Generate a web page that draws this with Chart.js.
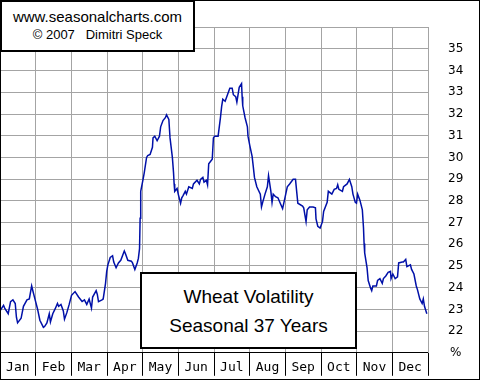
<!DOCTYPE html>
<html>
<head>
<meta charset="utf-8">
<script src="https://cdn.jsdelivr.net/npm/chart.js@4.4.1/dist/chart.umd.min.js"></script>
<style>
  body { margin: 0; background: #fff; }
  #wrap { position: relative; width: 480px; height: 380px; }
  #frame { position: absolute; left: 0; top: 0; width: 480px; height: 380px; border: 1px solid #000; box-sizing: border-box; pointer-events: none; }
  .box { position: absolute; background: #fff; border: 2px solid #000; box-sizing: border-box; font-family: "Liberation Sans", Arial, sans-serif; color: #000; }
  .box div { position: absolute; left: 0; right: 0; text-align: center; white-space: pre; }
  #credit { left: 0; top: 0; width: 195px; height: 52px; }
  #credit .l1 { top: 6px; font-size: 15px; line-height: 18px; }
  #credit .l2 { top: 25px; font-size: 13px; line-height: 16px; }
  #title { left: 140px; top: 272px; width: 217px; height: 77px; }
  #title .l1 { top: 11px; font-size: 19px; line-height: 24px; }
  #title .l2 { top: 40px; font-size: 19px; line-height: 24px; }
</style>
</head>
<body>
<div id="wrap">
  <canvas id="chart" width="480" height="380"></canvas>
  <div class="box" id="credit"><div class="l1">www.seasonalcharts.com</div><div class="l2">© 2007   Dimitri Speck</div></div>
  <div class="box" id="title"><div class="l1">Wheat Volatility</div><div class="l2">Seasonal 37 Years</div></div>
  <div id="frame"></div>
</div>
<script>
// meses do eixo x
const months = ['Jan', 'Feb', 'Mar', 'Apr', 'May', 'Jun', 'Jul', 'Aug', 'Sep', 'Oct', 'Nov', 'Dec'];

// dia do ano (0..365) de cada ponto lido
const days = [0, 3, 4, 7, 9, 11, 13, 14, 15, 18, 20, 23, 25, 27, 28, 30, 32, 34, 37, 38,
  40, 42, 43, 45, 47, 49, 50, 52, 54, 55, 57, 59, 61, 64, 67, 70, 72, 74, 76, 78,
  79, 82, 83, 84, 87, 88, 90, 91, 92, 94, 96, 97, 99, 101, 103, 106, 107, 109, 112, 113,
  115, 117, 118, 119, 119.5, 120, 122, 123, 125, 126, 128, 130, 130.5, 132, 134, 136, 137, 139, 141, 142,
  144, 145, 147, 148, 148.5, 149, 151, 152, 154, 155, 156, 158, 159, 161, 164, 165, 168, 170, 171, 173,
  174, 176, 177, 178, 181, 182, 183, 186, 188, 189, 190, 192, 194, 196, 198, 199, 201, 202, 204, 206,
  206.5, 207, 209, 211, 211.5, 213, 215, 216, 217, 219, 222, 223, 224, 226, 228, 229, 231, 232, 233, 235,
  237, 239, 241, 243, 245, 247, 250, 252, 253, 254, 258, 259, 261, 262, 264, 267, 269, 269.5, 271, 273,
  275, 276, 279, 280, 283, 285, 287, 288, 289, 292, 293, 296, 298, 300, 301, 303, 304, 305, 307, 309,
  310, 310.5, 311, 313, 314, 316, 317, 318, 321, 322, 324, 326, 327, 329, 331, 333, 333.5, 335, 337, 339,
  340, 343, 344, 346, 347, 350, 351, 353, 355, 356, 358, 360, 361, 362, 364];

// volatilidade sazonal (%)
const vol = [22.93, 23.19, 23.06, 22.80, 23.36, 23.44, 23.27, 22.64, 22.38, 22.59, 23.14, 23.44, 23.48, 24.08, 23.86, 23.44, 23.02, 22.50, 22.17, 22.21,
  22.38, 22.80, 22.42, 22.80, 23.02, 23.27, 23.14, 23.23, 22.93, 22.55, 22.85, 23.23, 23.65, 23.82, 23.57, 23.36, 23.44, 23.23, 23.48, 23.06,
  23.57, 23.86, 23.69, 23.36, 23.44, 23.48, 24.20, 24.75, 25.05, 25.39, 25.47, 25.18, 24.92, 25.14, 25.26, 25.69, 25.56, 25.26, 25.22, 25.14,
  24.84, 25.14, 25.35, 25.80, 27.20, 28.44, 28.99, 29.29, 30.00, 30.09, 30.14, 30.47, 30.90, 30.98, 30.77, 30.98, 31.41, 31.70, 31.83, 31.96,
  31.75, 30.90, 30.00, 29.29, 28.78, 28.44, 28.57, 28.31, 27.89, 28.14, 28.23, 28.44, 28.31, 28.65, 28.57, 28.78, 28.95, 28.78, 28.99, 29.08,
  28.86, 28.95, 28.74, 29.71, 29.92, 30.90, 30.98, 30.98, 31.83, 32.34, 32.68, 32.59, 32.89, 33.19, 33.19, 32.89, 32.80, 32.55, 33.23, 33.40,
  32.80, 32.38, 31.83, 31.41, 30.98, 30.56, 30.05, 29.58, 29.08, 28.65, 28.31, 27.72, 27.93, 28.31, 28.65, 29.16, 28.44, 27.93, 28.31, 28.19,
  28.14, 27.89, 27.64, 28.14, 28.65, 28.78, 28.99, 28.99, 28.44, 27.89, 27.76, 27.68, 27.04, 27.59, 27.72, 27.72, 27.68, 27.17, 26.83, 26.75,
  27.04, 27.51, 27.93, 28.44, 28.31, 28.53, 28.57, 28.74, 28.53, 28.44, 28.65, 28.78, 28.99, 28.65, 28.31, 27.93, 27.89, 28.31, 28.02, 27.59,
  26.75, 26.03, 25.60, 24.92, 24.33, 23.99, 23.86, 24.08, 24.08, 24.33, 24.42, 24.20, 24.42, 24.54, 24.71, 24.75, 24.42, 24.63, 24.42, 24.50,
  25.14, 25.18, 25.18, 25.30, 24.97, 25.05, 24.84, 24.63, 24.08, 23.91, 23.48, 23.27, 23.48, 23.14, 22.80];

// escala y
const yMin = 21, yMax = 36;

const points = days.map((d, i) => ({ x: d, y: vol[i] }));

new Chart(document.getElementById('chart'), {
  type: 'line',
  data: {
    labels: months,
    datasets: [{
      data: points,
      xAxisID: 'xd',
      borderColor: '#0010a8',
      borderWidth: 1.5,
      pointRadius: 0,
      tension: 0,
      fill: false
    }]
  },
  options: {
    responsive: false,
    animation: false,
    events: [],
    layout: { padding: { left: 0, top: 2, right: 0, bottom: 1 } },
    plugins: { legend: { display: false }, tooltip: { enabled: false } },
    scales: {
      x: {
        type: 'category',
        offset: true,
        grid: { offset: true, color: '#a4a4a4', tickColor: '#000', tickLength: 23, lineWidth: 1 },
        border: { color: '#000', width: 1 },
        ticks: { color: '#000', padding: -16, maxRotation: 0, autoSkip: false, font: { family: 'DejaVu Sans Mono', size: 13 } },
        afterFit: s => { s.height = 24; }
      },
      xd: {
        type: 'linear',
        display: false,
        min: 0,
        max: 365
      },
      y: {
        position: 'right',
        min: yMin,
        max: yMax,
        grid: { color: '#a4a4a4', drawTicks: false, lineWidth: 1 },
        border: { color: '#a4a4a4' },
        ticks: {
          stepSize: 1,
          padding: 20,
          crossAlign: 'center',
          color: '#000',
          font: { family: 'DejaVu Sans', size: 12 },
          callback: v => v === yMin ? '%' : (v === yMax ? '' : v)
        },
        afterFit: s => { s.width = 52; }
      }
    }
  }
});
</script>
</body>
</html>
